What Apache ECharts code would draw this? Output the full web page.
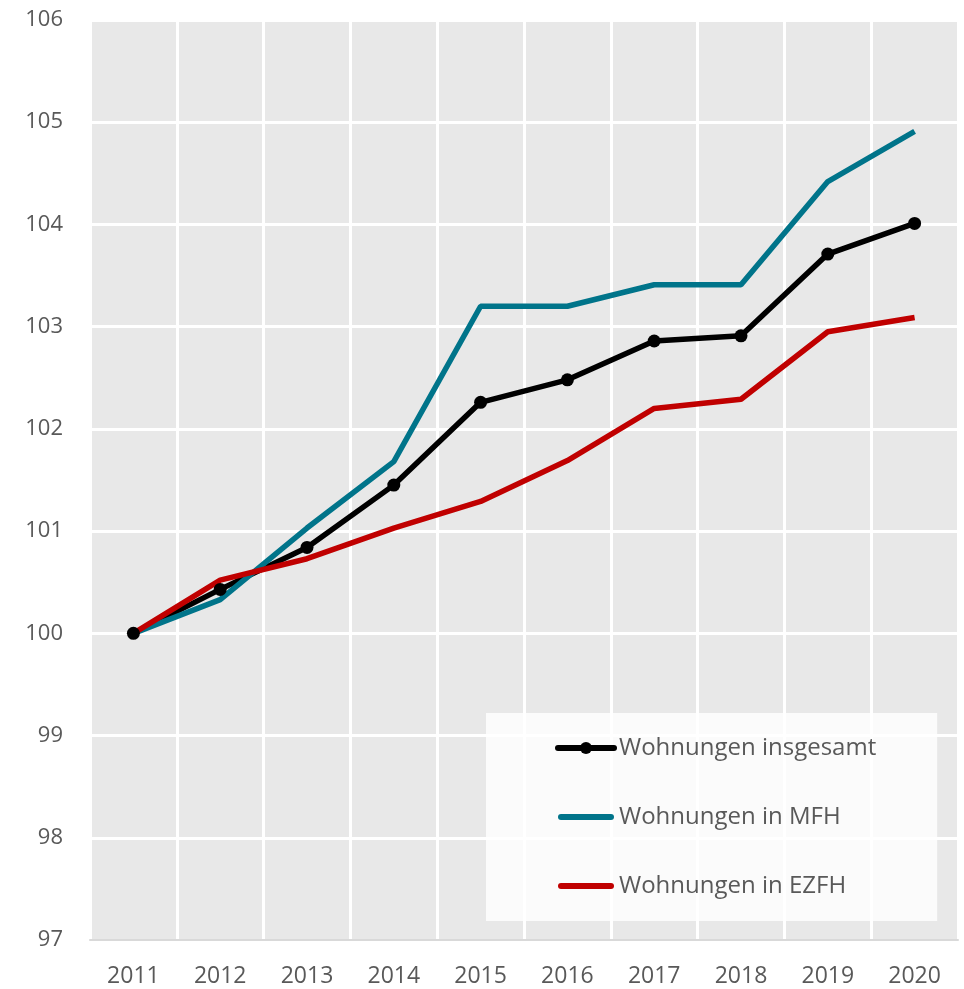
<!DOCTYPE html>
<html>
<head>
<meta charset="utf-8">
<script src="https://cdn.jsdelivr.net/npm/echarts@6/dist/echarts.min.js"></script>
<style>
  html, body { margin: 0; padding: 0; background: #fff; }
  #chart { width: 964px; height: 989px; }
</style>
</head>
<body>
<div id="chart"></div>
<script>
// Jahre und Indexwerte (2011 = 100)
var years = ['2011', '2012', '2013', '2014', '2015', '2016', '2017', '2018', '2019', '2020'];
var insgesamt = [100, 100.43, 100.84, 101.45, 102.26, 102.48, 102.86, 102.91, 103.71, 104.01];
var mfh = [100, 100.33, 101.03, 101.68, 103.2, 103.2, 103.41, 103.41, 104.42, 104.91];
var ezfh = [100, 100.52, 100.73, 101.03, 101.29, 101.69, 102.2, 102.29, 102.95, 103.09];
var seriesNames = ['Wohnungen insgesamt', 'Wohnungen in MFH', 'Wohnungen in EZFH'];

var font = "'Open Sans', 'Noto Sans', sans-serif";
// dicker Strich mit runden Enden als Legendensymbol
var barIcon = 'path://M3,0 L53,0 A3,3 0 0 1 53,6 L3,6 A3,3 0 0 1 3,0 Z';

var chart = echarts.init(document.getElementById('chart'));

chart.setOption({
  animation: false,
  textStyle: { fontFamily: font },
  grid: {
    left: 90, right: 6, top: 20, bottom: 49,
    show: true,
    backgroundColor: '#e8e8e8',
    borderWidth: 0
  },
  legend: {
    orient: 'vertical',
    left: 486,
    top: 713,
    data: [
      { name: seriesNames[0] },
      { name: seriesNames[1], icon: barIcon },
      { name: seriesNames[2], icon: barIcon }
    ],
    itemWidth: 56,
    itemHeight: 15,
    itemGap: 41,
    padding: [21, 61, 21, 69],
    lineStyle: { width: 6, cap: 'round' },
    backgroundColor: 'rgba(255,255,255,0.8)',
    textStyle: { color: '#595959', fontSize: 24, lineHeight: 28, width: 257, fontFamily: font }
  },
  xAxis: {
    type: 'category',
    data: years,
    boundaryGap: true,
    axisLine: { lineStyle: { color: '#d9d9d9', width: 2 } },
    axisTick: { show: false },
    axisLabel: { color: '#595959', fontSize: 23, margin: 25 },
    splitLine: { show: true, lineStyle: { color: '#fff', width: 3 } }
  },
  yAxis: {
    type: 'value',
    min: 97, max: 106, interval: 1,
    axisLine: { show: false },
    axisTick: { show: false },
    axisLabel: { color: '#595959', fontSize: 22, margin: 27 },
    splitLine: { lineStyle: { color: '#fff', width: 3 } }
  },
  series: [
    {
      name: seriesNames[0],
      type: 'line',
      data: insgesamt,
      symbol: 'circle',
      symbolSize: 13,
      itemStyle: { color: '#000' },
      lineStyle: { color: '#000', width: 5.5 }
    },
    {
      name: seriesNames[1],
      type: 'line',
      data: mfh,
      symbol: 'none',
      itemStyle: { color: '#00748a' },
      lineStyle: { color: '#00748a', width: 5.5 }
    },
    {
      name: seriesNames[2],
      type: 'line',
      data: ezfh,
      symbol: 'none',
      itemStyle: { color: '#c00000' },
      lineStyle: { color: '#c00000', width: 5.5 }
    }
  ]
});
</script>
</body>
</html>
